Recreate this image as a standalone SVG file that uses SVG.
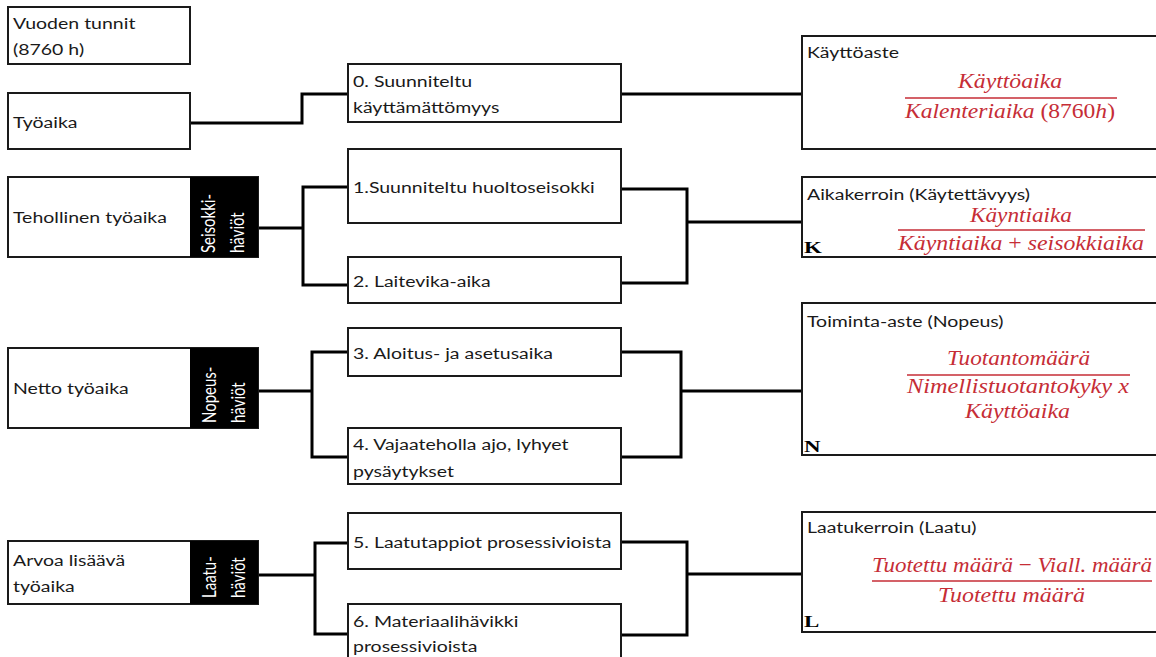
<svg xmlns="http://www.w3.org/2000/svg" width="1156" height="657" viewBox="0 0 1156 657">
<style>
.box{fill:#fff;stroke:#1a1a1a;stroke-width:2}
.blk{fill:#000}
.t{font-family:Lato,"Liberation Sans",sans-serif;font-size:15px;fill:#1a1a1a}
.w{font-family:Lato,"Liberation Sans",sans-serif;font-size:15px;fill:#fff}
.f{font-family:"Liberation Serif",serif;font-style:italic;font-size:22px;fill:#c62d36}
.u{font-style:normal}
.fl{stroke:#c62d36;stroke-width:1.5}
.b{font-family:"Liberation Serif",serif;font-weight:bold;font-size:17px;fill:#000}
.c{fill:none;stroke:#000;stroke-width:3}
</style>
<rect width="1156" height="657" fill="#fff"/>
<g id="connectors">
<path class="c" d="M190 123H302V94H348"/>
<path class="c" d="M621 94H802"/>
<path class="c" d="M258 228H303M348 187H303V285H348"/>
<path class="c" d="M621 189H687V283H621M687 222H802"/>
<path class="c" d="M258 391H312M348 352H312V457H348"/>
<path class="c" d="M621 352H681V457H621M681 391H802"/>
<path class="c" d="M258 575H315M348 543H315V634H348"/>
<path class="c" d="M621 542H687V635H621M687 574H802"/>
</g>
<g id="vuoden">
<rect class="box" x="8" y="7" width="182" height="57"/>
<text class="t" transform="matrix(1.3 0 0 1 13 29)">Vuoden tunnit</text>
<text class="t" transform="matrix(1.3 0 0 1 13 55)">(8760 h)</text>
</g>
<g id="tyoaika">
<rect class="box" x="8" y="93" width="182" height="56"/>
<text class="t" transform="matrix(1.3 0 0 1 13 128)">Työaika</text>
</g>
<g id="tehollinen">
<rect class="box" x="8" y="177" width="250" height="80"/>
<rect class="blk" x="190" y="177" width="68" height="80"/>
<text class="t" transform="matrix(1.3 0 0 1 13 223)">Tehollinen työaika</text>
<text class="w" transform="translate(215 253) scale(1.3 1) rotate(-90)">Seisokki-</text>
<text class="w" transform="translate(244 253) scale(1.3 1) rotate(-90)">häviöt</text>
</g>
<g id="netto">
<rect class="box" x="8" y="348" width="250" height="80"/>
<rect class="blk" x="190" y="348" width="68" height="80"/>
<text class="t" transform="matrix(1.3 0 0 1 13 394)">Netto työaika</text>
<text class="w" transform="translate(216 423) scale(1.3 1) rotate(-90)">Nopeus-</text>
<text class="w" transform="translate(245 423) scale(1.3 1) rotate(-90)">häviöt</text>
</g>
<g id="arvoa">
<rect class="box" x="8" y="541" width="250" height="63"/>
<rect class="blk" x="190" y="541" width="68" height="63"/>
<text class="t" transform="matrix(1.3 0 0 1 13 566)">Arvoa lisäävä</text>
<text class="t" transform="matrix(1.3 0 0 1 13 592)">työaika</text>
<text class="w" transform="translate(216 598) scale(1.3 1) rotate(-90)">Laatu-</text>
<text class="w" transform="translate(245 598) scale(1.3 1) rotate(-90)">häviöt</text>
</g>
<g id="n0">
<rect class="box" x="348" y="64" width="273" height="58"/>
<text class="t" transform="matrix(1.3 0 0 1 353 87)">0. Suunniteltu</text>
<text class="t" transform="matrix(1.3 0 0 1 353 113)">käyttämättömyys</text>
</g>
<g id="n1">
<rect class="box" x="348" y="149" width="273" height="74"/>
<text class="t" transform="matrix(1.3 0 0 1 353 193)">1.Suunniteltu huoltoseisokki</text>
</g>
<g id="n2">
<rect class="box" x="348" y="257" width="273" height="46"/>
<text class="t" transform="matrix(1.3 0 0 1 353 287)">2. Laitevika-aika</text>
</g>
<g id="n3">
<rect class="box" x="348" y="328" width="273" height="48"/>
<text class="t" transform="matrix(1.3 0 0 1 353 359)">3. Aloitus- ja asetusaika</text>
</g>
<g id="n4">
<rect class="box" x="348" y="428" width="273" height="56"/>
<text class="t" transform="matrix(1.3 0 0 1 353 450)">4. Vajaateholla ajo, lyhyet</text>
<text class="t" transform="matrix(1.3 0 0 1 353 477)">pysäytykset</text>
</g>
<g id="n5">
<rect class="box" x="348" y="513" width="273" height="56"/>
<text class="t" transform="matrix(1.3 0 0 1 353 548)">5. Laatutappiot prosessivioista</text>
</g>
<g id="n6">
<rect class="box" x="348" y="604" width="273" height="70"/>
<text class="t" transform="matrix(1.3 0 0 1 353 627)">6. Materiaalihävikki</text>
<text class="t" transform="matrix(1.3 0 0 1 353 652)">prosessivioista</text>
</g>
<g id="kayttoaste">
<rect class="box" x="802" y="36" width="370" height="113"/>
<text class="t" transform="matrix(1.3 0 0 1 807 58)">Käyttöaste</text>
<text class="f" x="958" y="88" textLength="104" lengthAdjust="spacingAndGlyphs">Käyttöaika</text>
<line class="fl" x1="905" y1="98" x2="1117" y2="98"/>
<text class="f" x="905" y="118" textLength="210" lengthAdjust="spacingAndGlyphs">Kalenteriaika <tspan class="u">(8760</tspan>h<tspan class="u">)</tspan></text>
</g>
<g id="aikakerroin">
<rect class="box" x="802" y="177" width="370" height="80"/>
<text class="t" transform="matrix(1.3 0 0 1 807 200)">Aikakerroin (Käytettävyys)</text>
<text class="f" x="970" y="222" textLength="102" lengthAdjust="spacingAndGlyphs">Käyntiaika</text>
<line class="fl" x1="898" y1="230" x2="1145" y2="230"/>
<text class="f" x="898" y="250" textLength="246" lengthAdjust="spacingAndGlyphs">Käyntiaika <tspan class="u">+</tspan> seisokkiaika</text>
<text class="b" transform="matrix(1.35 0 0 1 804 253)">K</text>
</g>
<g id="toiminta">
<rect class="box" x="802" y="303" width="370" height="152"/>
<text class="t" transform="matrix(1.3 0 0 1 807 327)">Toiminta-aste (Nopeus)</text>
<text class="f" x="947" y="365" textLength="143" lengthAdjust="spacingAndGlyphs">Tuotantomäärä</text>
<line class="fl" x1="907" y1="375" x2="1130" y2="375"/>
<text class="f" x="907" y="393" textLength="222" lengthAdjust="spacingAndGlyphs">Nimellistuotantokyky x</text>
<text class="f" x="965" y="418" textLength="105" lengthAdjust="spacingAndGlyphs">Käyttöaika</text>
<text class="b" transform="matrix(1.35 0 0 1 804 452)">N</text>
</g>
<g id="laatukerroin">
<rect class="box" x="802" y="512" width="370" height="120"/>
<text class="t" transform="matrix(1.3 0 0 1 807 533)">Laatukerroin (Laatu)</text>
<text class="f" x="872" y="572" textLength="280" lengthAdjust="spacingAndGlyphs">Tuotettu määrä <tspan class="u">−</tspan> Viall. määrä</text>
<line class="fl" x1="872" y1="581" x2="1152" y2="581"/>
<text class="f" x="938" y="602" textLength="147" lengthAdjust="spacingAndGlyphs">Tuotettu määrä</text>
<text class="b" transform="matrix(1.35 0 0 1 804 627)">L</text>
</g>
</svg>
